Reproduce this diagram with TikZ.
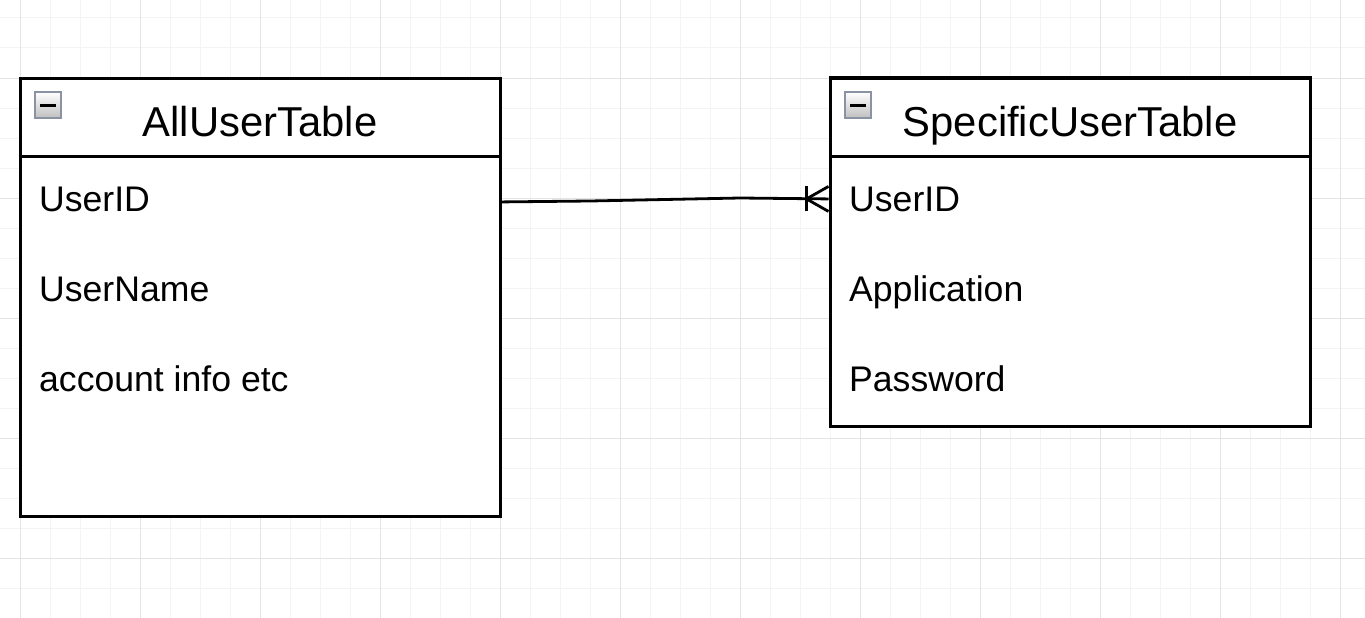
\documentclass[tikz,border=0pt]{standalone}
\usepackage{fontspec}
\setmainfont{Liberation Sans}
\usetikzlibrary{positioning}

\definecolor{gridminor}{HTML}{F4F4F4}
\definecolor{gridmajor}{HTML}{E4E4E4}
\definecolor{iconframe}{HTML}{8A93A3}

\tikzset{
    tablebox/.style={draw, line width=3pt, fill=white, inner sep=0pt},
    tabletitle/.style={anchor=base, font=\fontsize{41.8}{46}\selectfont},
    tablefield/.style={anchor=base west, inner sep=0pt, font=\fontsize{35.6}{40}\selectfont},
    relation/.style={line width=2.8pt}
}

\newcommand{\collapseicon}[2]{%
    \draw[iconframe, line width=2pt, top color=white, bottom color=black!25]
        (#1,#2) rectangle ++(26,26);
    \draw[line width=3pt] (#1+5,#2+13) -- ++(16,0);
}

\begin{document}
\begin{tikzpicture}[x=1pt,y=-1pt]
    \useasboundingbox (0,0) rectangle (1365,618);

    % grid
    \foreach \gx in {20,50,...,1350}
        \draw[gridminor, line width=1pt] (\gx,0) -- (\gx,618);
    \foreach \gy in {18,48,...,618}
        \draw[gridminor, line width=1pt] (0,\gy) -- (1365,\gy);
    \foreach \gx in {20,140,...,1340}
        \draw[gridmajor, line width=1pt] (\gx,0) -- (\gx,618);
    \foreach \gy in {78,198,...,558}
        \draw[gridmajor, line width=1pt] (0,\gy) -- (1365,\gy);

    % tables
    \node[tablebox, minimum width=480pt, minimum height=438pt] (all) at (260,297) {};
    \node[tablebox, minimum width=480pt, minimum height=348pt] (spec) at (1070,252) {};
    \draw[line width=3pt] (all.north west |- 0,156) -- (all.north east |- 0,156);
    \draw[line width=3pt] (spec.north west |- 0,156) -- (spec.north east |- 0,156);

    \collapseicon{35}{92}
    \collapseicon{845}{92}

    \node[tabletitle] (allTitle) at (260,136) {AllUserTable};
    \node[tabletitle] (specTitle) at (1070,136) {SpecificUserTable};

    \node[tablefield] (aUID) at (39,211) {UserID};
    \node[tablefield] (aName) at (39,301) {UserName};
    \node[tablefield] (aInfo) at (39,391) {account info etc};

    \node[tablefield] (sUID) at (849,211) {UserID};
    \node[tablefield] (sApp) at (849,301) {Application};
    \node[tablefield] (sPass) at (849,391) {Password};

    % relation
    \coordinate (src) at ([yshift=-3pt]all.east |- aUID);
    \coordinate (dst) at (spec.west |- sUID);
    \coordinate (bendA) at (590,201);
    \coordinate (bendB) at (740,198);
    \coordinate (foot) at ([xshift=-22pt]dst);
    \draw[relation] (src) -- (bendA) -- (bendB) -- (dst);
    \draw[relation] ([yshift=-12.5pt]dst) -- (foot) -- ([yshift=12.5pt]dst);
    \draw[relation] ([yshift=-12.5pt]foot) -- ([yshift=12.5pt]foot);
\end{tikzpicture}
\end{document}
